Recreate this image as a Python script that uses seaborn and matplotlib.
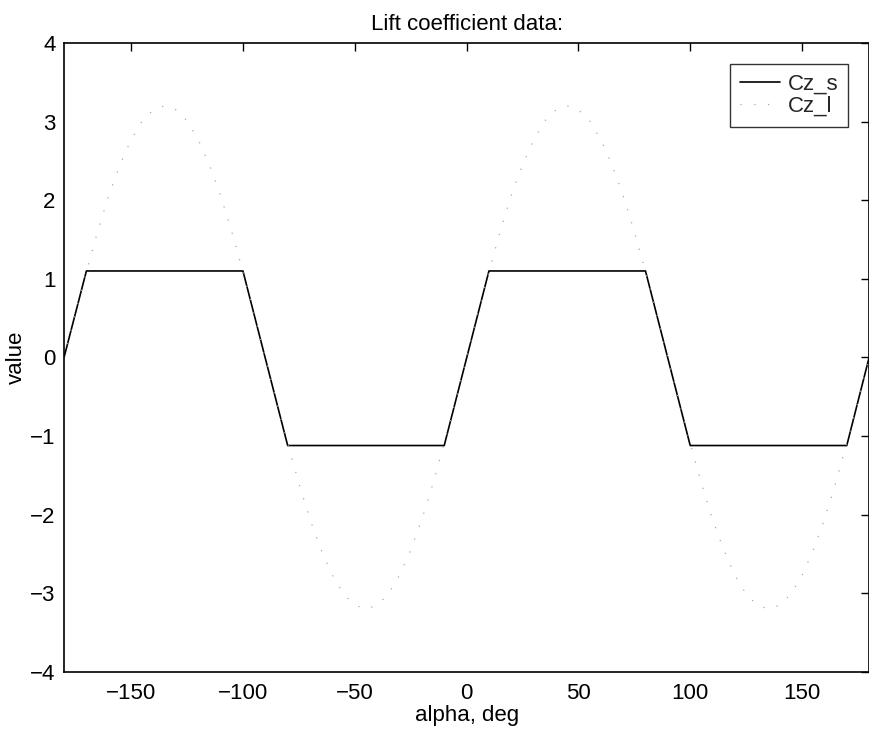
import matplotlib
matplotlib.use("Agg")
import matplotlib.pyplot as plt
import seaborn as sns
import pandas as pd

# Cz_s: piecewise-linear (corners)
alpha_s = [-180, -170, -100, -80, -10, 10, 80, 100, 170, 180]
cz_s = [0.0, 1.1, 1.1, -1.12, -1.12, 1.1, 1.1, -1.12, -1.12, 0.0]

# Cz_l: dotted curve, values read every 5 deg
alpha_l = [-180, -175, -170, -165, -160, -155, -150, -145, -140, -135, -130, -125,
           -120, -115, -110, -105, -100, -95, -90, -85, -80, -75, -70, -65,
           -60, -55, -50, -45, -40, -35, -30, -25, -20, -15, -10, -5,
           0, 5, 10, 15, 20, 25, 30, 35, 40, 45, 50, 55,
           60, 65, 70, 75, 80, 85, 90, 95, 100, 105, 110, 115,
           120, 125, 130, 135, 140, 145, 150, 155, 160, 165, 170, 175, 180]
cz_l = [0.00, 0.56, 1.09, 1.60, 2.06, 2.45, 2.77, 3.01, 3.15, 3.20, 3.15, 3.01,
        2.77, 2.45, 2.06, 1.60, 1.09, 0.56, 0.00, -0.56, -1.09, -1.60, -2.06, -2.45,
        -2.77, -3.01, -3.15, -3.20, -3.15, -3.01, -2.77, -2.45, -2.06, -1.60, -1.09, -0.56,
        0.00, 0.56, 1.09, 1.60, 2.06, 2.45, 2.77, 3.01, 3.15, 3.20, 3.15, 3.01,
        2.77, 2.45, 2.06, 1.60, 1.09, 0.56, 0.00, -0.56, -1.09, -1.60, -2.06, -2.45,
        -2.77, -3.01, -3.15, -3.20, -3.15, -3.01, -2.77, -2.45, -2.06, -1.60, -1.09, -0.56, 0.00]

x_ticks = [-150, -100, -50, 0, 50, 100, 150]
y_ticks = [-4, -3, -2, -1, 0, 1, 2, 3, 4]

sns.set_theme(style="white")
plt.rcParams['font.family'] = ['Liberation Sans', 'DejaVu Sans']

FS = 16

fig = plt.figure(figsize=(8.7, 7.34), dpi=100)
ax = fig.add_axes([0.0736, 0.0845, 0.9254, 0.857])

df_s = pd.DataFrame({"alpha": alpha_s, "value": cz_s})
df_l = pd.DataFrame({"alpha": alpha_l, "value": cz_l})

sns.lineplot(data=df_s, x="alpha", y="value", ax=ax, color="black", lw=1.2,
             label="Cz_s", sort=False)
sns.lineplot(data=df_l, x="alpha", y="value", ax=ax, color="#a8a8a8", lw=0.9,
             label="Cz_l", sort=False, dashes=False)
ax.lines[1].set_linestyle((0, (1, 10)))

ax.set_xlim(-180, 180)
ax.set_ylim(-4, 4)
ax.set_xticks(x_ticks)
ax.set_yticks(y_ticks)
ax.set_xticklabels(["\u2212150", "\u2212100", "\u221250", "0", "50", "100", "150"])
ax.set_yticklabels(["\u22124", "\u22123", "\u22122", "\u22121", "0", "1", "2", "3", "4"])
ax.tick_params(direction="in", top=True, right=True, length=6, width=1,
               labelsize=FS, color="black", labelcolor="black")
ax.tick_params(axis="x", pad=8)
ax.tick_params(axis="y", pad=6)
for s in ax.spines.values():
    s.set_color("black")
    s.set_linewidth(1.2)

ax.set_xlabel("alpha, deg", fontsize=FS, color="black", labelpad=1)
ax.set_ylabel("value", fontsize=FS, color="black")
ax.yaxis.set_label_coords(-0.046, 0.5)
ax.set_title("Lift coefficient data:", fontsize=FS, color="black", pad=9)

leg = ax.legend(loc="upper right", fontsize=FS, frameon=True, fancybox=False,
                borderaxespad=0.95, handlelength=1.8, borderpad=0.45,
                labelspacing=0.05, handletextpad=0.35)
leg.get_frame().set_edgecolor("black")
leg.get_frame().set_linewidth(1.0)

fig.savefig("out.png", dpi=100)
